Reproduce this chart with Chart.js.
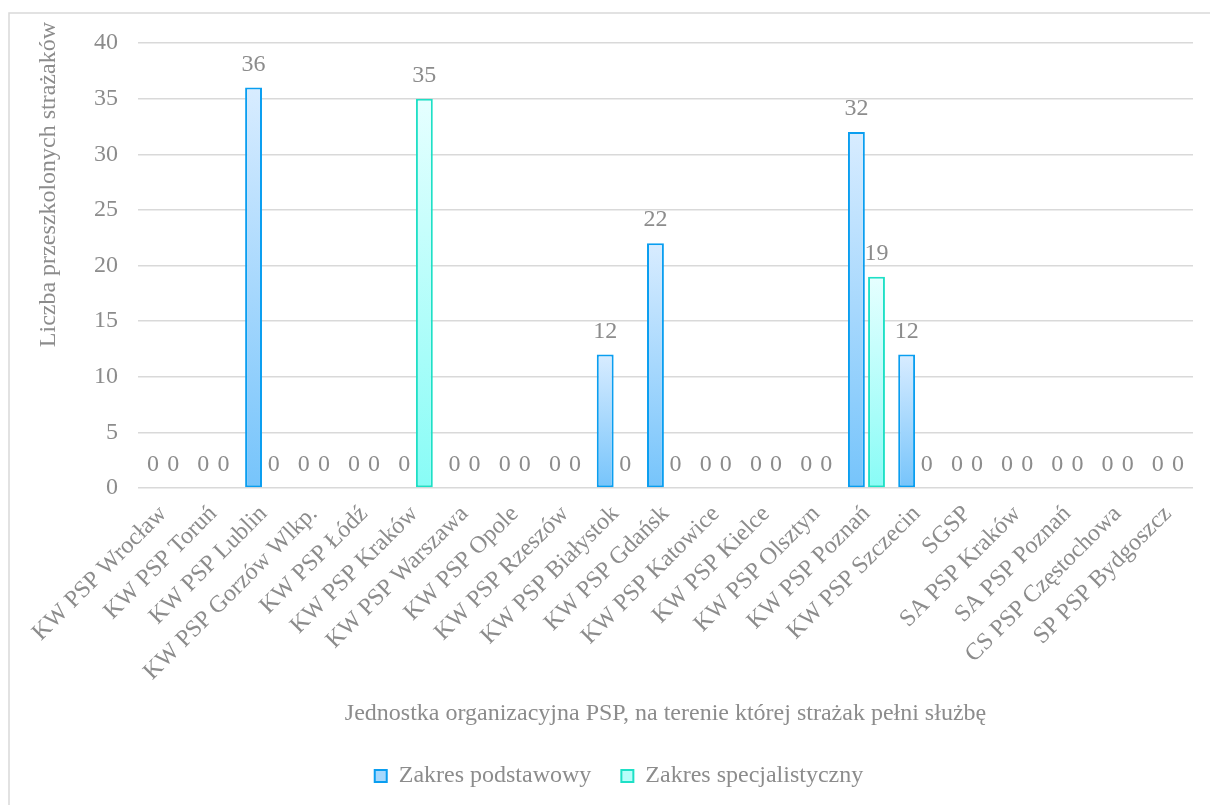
<!DOCTYPE html>
<html>
<head>
<meta charset="utf-8">
<script src="https://cdn.jsdelivr.net/npm/chart.js@4.4.0/dist/chart.umd.min.js"></script>
<style>
  body { margin: 0; background: #fff; overflow: hidden; }
  #wrap { position: relative; width: 1210px; height: 805px; }
</style>
</head>
<body>
<div id="wrap"><canvas id="canvas" width="1210" height="805"></canvas></div>
<script>
// Dane z wykresu
const jednostki = [
  'KW PSP Wrocław', 'KW PSP Toruń', 'KW PSP Lublin', 'KW PSP Gorzów Wlkp.', 'KW PSP Łódź',
  'KW PSP Kraków', 'KW PSP Warszawa', 'KW PSP Opole', 'KW PSP Rzeszów', 'KW PSP Białystok',
  'KW PSP Gdańsk', 'KW PSP Katowice', 'KW PSP Kielce', 'KW PSP Olsztyn', 'KW PSP Poznań',
  'KW PSP Szczecin', 'SGSP', 'SA PSP Kraków', 'SA PSP Poznań', 'CS PSP Częstochowa', 'SP PSP Bydgoszcz'
];
const podstawowy = [0, 0, 36, 0, 0, 0, 0, 0, 0, 12, 22, 0, 0, 0, 32, 12, 0, 0, 0, 0, 0];
const specjalistyczny = [0, 0, 0, 0, 0, 35, 0, 0, 0, 0, 0, 0, 0, 0, 19, 0, 0, 0, 0, 0, 0];
const yTicks = [0, 5, 10, 15, 20, 25, 30, 35, 40];

const FONT = "'Liberation Serif', 'Times New Roman', serif";
const GREY = '#8c8c8c';
const FS = 24;

// gradient per slupek (jasny u gory, ciemniejszy u dolu)
function barFill(top, bottom, flat) {
  return function(ctx) {
    const chart = ctx.chart;
    if (ctx.dataIndex === undefined || !chart.chartArea) return flat;
    const y = chart.scales.y;
    const v = ctx.dataset.data[ctx.dataIndex];
    const y0 = y.getPixelForValue(v);
    const y1 = y.getPixelForValue(0);
    if (!isFinite(y0) || y1 - y0 < 1) return flat;
    const g = chart.ctx.createLinearGradient(0, y0, 0, y1);
    g.addColorStop(0, top);
    g.addColorStop(1, bottom);
    return g;
  };
}

const valueLabels = {
  id: 'valueLabels',
  afterDatasetsDraw(chart) {
    const c = chart.ctx;
    c.save();
    c.font = FS + 'px ' + FONT;
    c.fillStyle = GREY;
    c.textAlign = 'center';
    c.textBaseline = 'alphabetic';
    chart.data.datasets.forEach((ds, i) => {
      chart.getDatasetMeta(i).data.forEach((bar, j) => {
        c.fillText(String(ds.data[j]), bar.x, bar.y - 17);
      });
    });
    c.restore();
  }
};

// ramka wykresu i tytul osi Y
const frame = {
  id: 'frame',
  beforeDraw(chart) {
    const c = chart.ctx;
    c.save();
    c.strokeStyle = '#d9d9d9';
    c.lineWidth = 1.5;
    c.strokeRect(9, 13, 1400, 1000);
    c.restore();
  },
  afterDraw(chart) {
    const c = chart.ctx;
    c.save();
    c.font = FS + 'px ' + FONT;
    c.fillStyle = GREY;
    c.translate(49, chart.chartArea.top - 21);
    c.rotate(-Math.PI / 2);
    c.textAlign = 'right';
    c.textBaseline = 'middle';
    c.fillText('Liczba przeszkolonych strażaków', 0, 0);
    c.restore();
  }
};

const chart = new Chart(document.querySelector('#canvas'), {
  type: 'bar',
  data: {
    labels: jednostki,
    datasets: [
      {
        label: 'Zakres podstawowy',
        data: podstawowy,
        backgroundColor: barFill('#d8ecff', '#76c4fb', '#a6d8fd'),
        borderColor: '#0a9ef0',
        borderWidth: 2,
        borderSkipped: false,
        categoryPercentage: 0.8,
        barPercentage: 0.84
      },
      {
        label: 'Zakres specjalistyczny',
        data: specjalistyczny,
        backgroundColor: barFill('#e6ffff', '#88fcf6', '#b8fefa'),
        borderColor: '#1ee0c6',
        borderWidth: 2,
        borderSkipped: false,
        categoryPercentage: 0.8,
        barPercentage: 0.84
      }
    ]
  },
  options: {
    responsive: false,
    animation: false,
    layout: { padding: { top: 43, right: 17, left: 45, bottom: 7 } },
    scales: {
      x: {
        grid: { display: false },
        border: { display: false },
        ticks: {
          autoSkip: false, minRotation: 45, maxRotation: 45, padding: 4,
          color: GREY, font: { family: FONT, size: FS }
        },
        title: {
          display: true,
          text: 'Jednostka organizacyjna PSP, na terenie której strażak pełni służbę',
          color: GREY, font: { family: FONT, size: FS }, padding: { top: 4, bottom: 6 }
        },
        afterFit(s) { s.height = 246; }
      },
      y: {
        min: 0, max: 40,
        afterBuildTicks(s) { s.ticks = yTicks.map(v => ({ value: v })); },
        grid: { color: '#d9d9d9', lineWidth: 1.5, drawTicks: false },
        border: { display: false },
        ticks: { padding: 20, color: GREY, font: { family: FONT, size: FS } },
        afterFit(s) { s.width = 93; }
      }
    },
    plugins: {
      legend: {
        position: 'bottom',
        labels: {
          boxWidth: 12, boxHeight: 12, padding: 30,
          color: GREY, font: { family: FONT, size: FS }
        }
      },
      tooltip: { enabled: false }
    }
  },
  plugins: [frame, valueLabels]
});
</script>
</body>
</html>
